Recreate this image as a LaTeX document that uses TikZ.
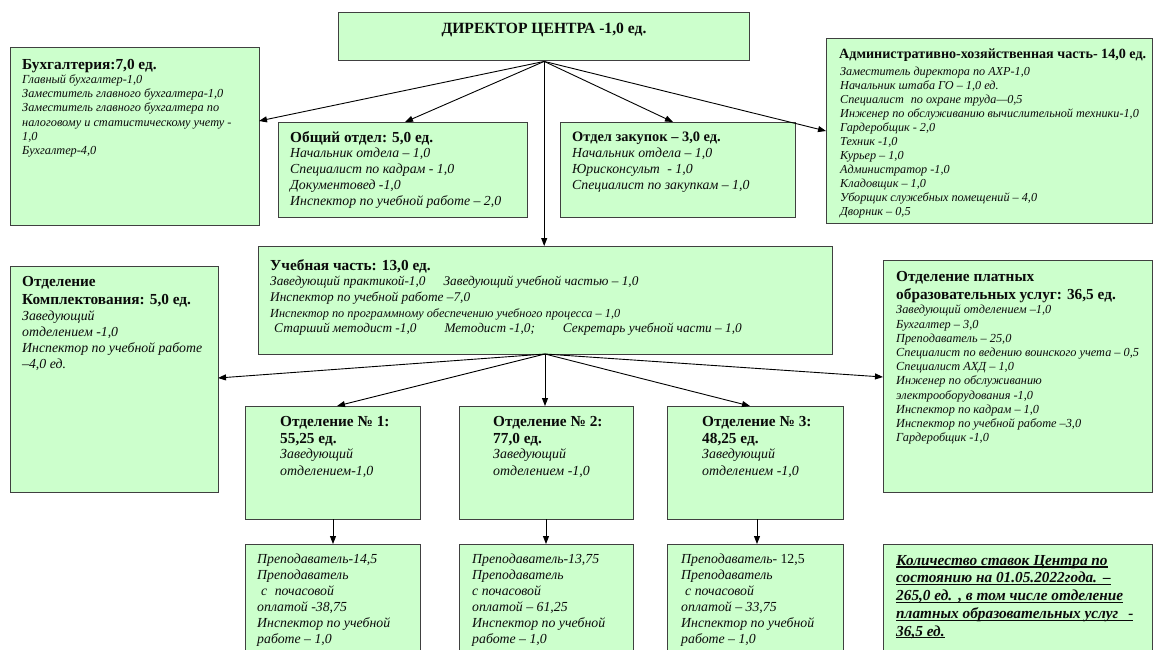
\documentclass[tikz,border=0pt]{standalone}
\usepackage{fontspec}
\setmainfont{Liberation Serif}
\usetikzlibrary{arrows.meta}
\definecolor{boxfill}{HTML}{CCFFCC}
\definecolor{boxline}{HTML}{404040}
\definecolor{ink}{HTML}{0A0A0A}
\newcommand\myfs[2]{\fontsize{#1}{#2}\selectfont}
\newcommand\myul[1]{\setbox0\hbox{#1}\rlap{\raisebox{-2.4pt}{\rule{\wd0}{1.2pt}}}\box0}
\begin{document}
\begin{tikzpicture}[x=1pt,y=-1pt,
  box/.style={draw=boxline, fill=boxfill, line width=1.4pt, inner sep=0, anchor=north west},
  ttl/.style={anchor=base west, inner sep=0, text=ink, font=\bfseries\myfs{15.3}{18}},
  ttlm/.style={anchor=north west, inner sep=0, text=ink, align=left, font=\bfseries\myfs{15.3}{18}},
  itm/.style 2 args={anchor=north west, inner sep=0, text=ink, align=left, font=\itshape\myfs{#1}{#2}},
  arr/.style={-{Triangle[length=8pt,width=6pt]}, line width=0.9pt, draw=black}]
\useasboundingbox (0,0) rectangle (1154,649);
\clip (0,0) rectangle (1154,649);

% boxes
\node[box, minimum width=411pt, minimum height=48pt] (dir) at (338,12) {};
\node[box, minimum width=249pt, minimum height=178pt] (buh) at (10,47) {};
\node[box, minimum width=249pt, minimum height=95pt] (obsh) at (278,122) {};
\node[box, minimum width=235pt, minimum height=95pt] (zak) at (560,122) {};
\node[box, minimum width=326pt, minimum height=185pt] (ahch) at (826,38) {};
\node[box, minimum width=574pt, minimum height=108pt] (ucheb) at (258,246) {};
\node[box, minimum width=208pt, minimum height=226pt] (kompl) at (10,266) {};
\node[box, minimum width=269pt, minimum height=232pt] (platn) at (883,260) {};
\node[box, minimum width=175pt, minimum height=113pt] (otd1) at (245,406) {};
\node[box, minimum width=174pt, minimum height=113pt] (otd2) at (459,406) {};
\node[box, minimum width=176pt, minimum height=113pt] (otd3) at (667,406) {};
\node[box, minimum width=175pt, minimum height=130pt] (b1) at (245,544) {};
\node[box, minimum width=174pt, minimum height=130pt] (b2) at (459,544) {};
\node[box, minimum width=176pt, minimum height=130pt] (b3) at (667,544) {};
\node[box, minimum width=269pt, minimum height=130pt] (sum) at (883,544) {};

% texts
\node[ttl, anchor=base, font=\bfseries\myfs{15.6}{18}] (dir-t) at (544,33) {ДИРЕКТОР ЦЕНТРА -1,0 ед.};

\node[ttl] (buh-t) at (22,69) {Бухгалтерия:7,0 ед.};
\node[itm={12.3}{14.2}] (buh-i) at (22,74.4) {Главный бухгалтер-1,0\\
Заместитель главного бухгалтера-1,0\\
Заместитель главного бухгалтера по\\
налоговому и статистическому учету -\\
1,0\\
Бухгалтер-4,0};

\node[ttl] (obsh-t) at (290,142) {Общий отдел: 5,0 ед.};
\node[itm={13.8}{16}] (obsh-i) at (290,147.3) {Начальник отдела – 1,0\\
Специалист по кадрам - 1,0\\
Документовед -1,0\\
Инспектор по учебной работе – 2,0};

\node[ttl, font=\bfseries\myfs{14.4}{18}] (zak-t) at (572,141.7) {Отдел закупок – 3,0 ед.};
\node[itm={13.8}{16}] (zak-i) at (572,147.3) {Начальник отдела – 1,0\\
Юрисконсульт\hspace{4pt} - 1,0\\
Специалист по закупкам – 1,0};

\node[ttl, font=\bfseries\myfs{14.1}{18}] (ahch-t) at (839,58) {Административно-хозяйственная часть- 14,0 ед.};
\node[itm={12.2}{14}] (ahch-i) at (840,66.5) {Заместитель директора по АХР-1,0\\
Начальник штаба ГО – 1,0 ед.\\
Специалист\hspace{4pt} по охране труда—0,5\\
Инженер по обслуживанию вычислительной техники-1,0\\
Гардеробщик - 2,0\\
Техник -1,0\\
Курьер – 1,0\\
Администратор -1,0\\
Кладовщик – 1,0\\
Уборщик служебных помещений – 4,0\\
Дворник – 0,5};

\node[ttl] (ucheb-t) at (270,270) {Учебная часть: 13,0 ед.};
\node[itm={13.3}{15.7}] (ucheb-i) at (270,276) {Заведующий практикой-1,0\hspace{18pt}Заведующий учебной частью – 1,0\\
Инспектор по учебной работе –7,0\\
{\myfs{12.3}{15.7}Инспектор по программному обеспечению учебного процесса – 1,0}\\
\hspace*{4pt}Старший методист -1,0\hspace{28pt}Методист -1,0;\hspace{28pt}Секретарь учебной части – 1,0};

\node[ttlm] (kompl-t) at (22,276.5) {Отделение\\Комплектования: 5,0 ед.};
\node[itm={13.8}{16}] (kompl-i) at (22,310.3) {Заведующий\\
отделением -1,0\\
Инспектор по учебной работе\\
–4,0 ед.};

\node[ttlm, font=\bfseries\myfs{15.3}{18.3}] (platn-t) at (896,271) {Отделение платных\\образовательных услуг: 36,5 ед.};
\node[itm={12.3}{14.2}] (platn-i) at (896,305) {Заведующий отделением –1,0\\
Бухгалтер – 3,0\\
Преподаватель – 25,0\\
Специалист по ведению воинского учета – 0,5\\
Специалист АХД – 1,0\\
Инженер по обслуживанию\\
электрооборудования -1,0\\
Инспектор по кадрам – 1,0\\
Инспектор по учебной работе –3,0\\
Гардеробщик -1,0};

\node[ttlm, font=\bfseries\myfs{15.3}{17.3}] (otd1-t) at (280,416) {Отделение № 1:\\55,25 ед.};
\node[itm={13.9}{17}] (otd1-i) at (280,448.3) {Заведующий\\отделением-1,0};
\node[ttlm, font=\bfseries\myfs{15.3}{17.3}] (otd2-t) at (493,416) {Отделение № 2:\\77,0 ед.};
\node[itm={13.9}{17}] (otd2-i) at (493,448.3) {Заведующий\\отделением -1,0};
\node[ttlm, font=\bfseries\myfs{15.3}{17.3}] (otd3-t) at (702,416) {Отделение № 3:\\48,25 ед.};
\node[itm={13.9}{17}] (otd3-i) at (702,448.3) {Заведующий\\отделением -1,0};

\node[itm={13.8}{16}] (b1-i) at (257,553.3) {Преподаватель-14,5\\
Преподаватель\\
\hspace*{4pt}с\hspace{4pt} почасовой\\
оплатой -38,75\\
Инспектор по учебной\\
работе – 1,0};
\node[itm={13.8}{16}] (b2-i) at (472,553.3) {Преподаватель-13,75\\
Преподаватель\\
с почасовой\\
оплатой – 61,25\\
Инспектор по учебной\\
работе – 1,0};
\node[itm={13.8}{16}] (b3-i) at (681,553.3) {Преподаватель- {\upshape 12,5}\\
Преподаватель\\
\hspace*{4pt}с почасовой\\
оплатой – 33,75\\
Инспектор по учебной\\
работе – 1,0};

\node[itm={15.3}{17.7}, font=\bfseries\itshape\myfs{15.3}{17.7}] (sum-i) at (896,555) {\myul{Количество ставок Центра по}\\
\myul{состоянию на 01.05.2022года.\hspace{6pt}–}\\
\myul{265,0 ед.\hspace{6pt}, в том числе отделение}\\
\myul{платных образовательных услуг\hspace{10pt}-}\\
\myul{36,5 ед.}};

% connector end points on box borders
\coordinate (buh-in) at (259,121);
\coordinate (obsh-in) at (405,122);
\coordinate (zak-in) at (673,122);
\coordinate (ahch-in) at (826,131);
\coordinate (kompl-in) at (218,378);
\coordinate (otd1-in) at (337,406);
\coordinate (otd3-in) at (750,406);
\coordinate (platn-in) at (883,377);
\coordinate (ucheb-out) at (545,354);
\coordinate (otd1-out) at (333,519);
\coordinate (otd2-out) at (546,519);
\coordinate (otd3-out) at (757,519);

% connectors
\draw[arr] (dir.south) -- (buh-in);
\draw[arr] (dir.south) -- (obsh-in);
\draw[arr] (dir.south) -- (zak-in);
\draw[arr] (dir.south) -- (ahch-in);
\draw[arr] (dir.south) -- (dir.south |- ucheb.north);
\draw[arr] (ucheb-out) -- (kompl-in);
\draw[arr] (ucheb-out) -- (otd1-in);
\draw[arr] (ucheb-out) -- (ucheb-out |- otd2.north);
\draw[arr] (ucheb-out) -- (otd3-in);
\draw[arr] (ucheb-out) -- (platn-in);
\draw[arr] (otd1-out) -- (otd1-out |- b1.north);
\draw[arr] (otd2-out) -- (otd2-out |- b2.north);
\draw[arr] (otd3-out) -- (otd3-out |- b3.north);
\end{tikzpicture}
\end{document}
